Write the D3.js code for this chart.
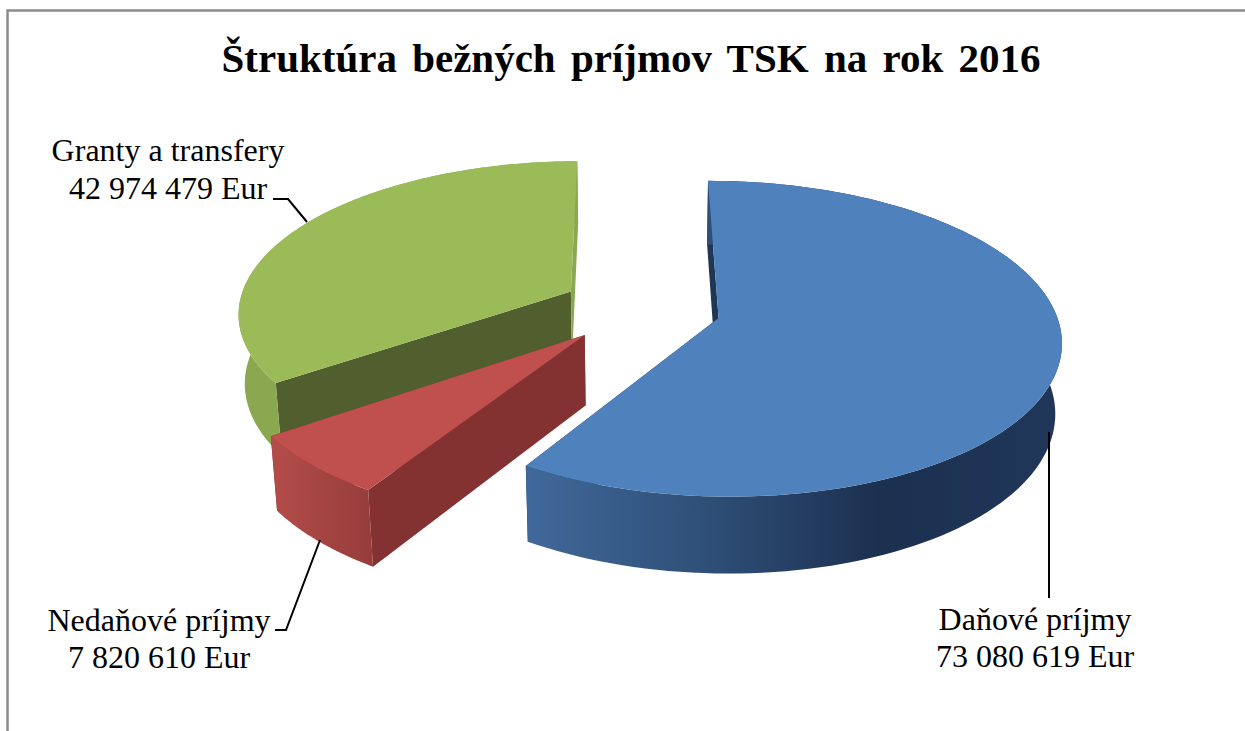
<!DOCTYPE html>
<html>
<head>
<meta charset="utf-8">
<script src="https://d3js.org/d3.v7.min.js"></script>
<style>
body { margin: 0; background: #fff; overflow: hidden; }
text { font-family: "Liberation Serif", "Times New Roman", serif; fill: #000; }
</style>
</head>
<body>
<div id="chart"></div>
<script>
// Chart data
var categories = ["Daňové príjmy", "Nedaňové príjmy", "Granty a transfery"];
var values = [73080619, 7820610, 42974479];
var valueLabels = ["73 080 619 Eur", "7 820 610 Eur", "42 974 479 Eur"];
var titleText = "Štruktúra bežných príjmov TSK na rok 2016";

var svgWidth = 1245;
var svgHeight = 731;

var svg = d3.select("#chart")
    .append("svg")
    .attr("width", svgWidth)
    .attr("height", svgHeight);

// Pie geometry and camera
var cx = 641, cy = 308;
var sliceRadius = [336, 341, 333];
var explode = 80;
var height3d = 79;
var elevation = 27 * Math.PI / 180;
var camDist = 2300;
var rotation = -0.3 * Math.PI / 180;

// colours: top, cut face, wall gradient stops
var sliceStyles = [
    { top: "#4f81bd", cut: "#1f3654", wall: [[530, "#40689a"], [700, "#2f5078"], [880, "#1c3050"], [1060, "#20375a"]] },
    { top: "#c0504d", cut: "#843231", wall: [[275, "#b34c49"], [370, "#963d3b"]] },
    { top: "#9bbb59", cut: "#505f2d", wall: [[243, "#8aa84f"], [580, "#8aa84f"]] }
];

function project(u, v, z) {
    var depth = v * Math.cos(elevation) - z * Math.sin(elevation);
    var s = camDist / (camDist + depth);
    return [
        cx + u * s,
        cy - (v * Math.sin(elevation) + z * Math.cos(elevation)) * s
    ];
}

var pie = d3.pie().sort(null).startAngle(rotation).endAngle(rotation + 2 * Math.PI);
var arcs = pie(values);

var path = d3.line().curve(d3.curveLinear);

var defs = svg.append("defs");
arcs.forEach(function(d, i) {
    var stops = sliceStyles[i].wall;
    var x0 = stops[0][0];
    var x1 = stops[stops.length - 1][0];
    var grad = defs.append("linearGradient")
        .attr("id", "wall" + i)
        .attr("gradientUnits", "userSpaceOnUse")
        .attr("x1", x0)
        .attr("x2", x1)
        .attr("y1", 0).attr("y2", 0);
    stops.forEach(function(s) {
        grad.append("stop")
            .attr("offset", (s[0] - x0) / (x1 - x0))
            .attr("stop-color", s[1]);
    });
});

function drawSlice(d, i) {
    var style = sliceStyles[i];
    var radius = sliceRadius[i];
    var mid = (d.startAngle + d.endAngle) / 2;
    var ox = explode * Math.sin(mid);
    var oy = explode * Math.cos(mid);
    var angles = d3.range(0, 121).map(function(k) {
        return d.startAngle + (d.endAngle - d.startAngle) * k / 120;
    });
    function rim(z) {
        return angles.map(function(a) {
            return project(ox + radius * Math.sin(a), oy + radius * Math.cos(a), z);
        });
    }
    var topRim = rim(0);
    var botRim = rim(-height3d);
    var apexTop = project(ox, oy, 0);
    var apexBot = project(ox, oy, -height3d);
    var g = svg.append("g");

    // cut faces
    [[topRim[0], botRim[0]], [topRim[120], botRim[120]]].forEach(function(e, j) {
        // the last edge of the green slice is the thin lighter strip
        var fill = (i === 2 && j === 1) ? "#8aa84f" : style.cut;
        g.append("path")
            .attr("d", path([apexTop, e[0], e[1], apexBot]) + "Z")
            .attr("fill", fill);
    });
    // outer wall
    g.append("path")
        .attr("d", path(topRim.concat(botRim.slice().reverse())) + "Z")
        .attr("fill", "url(#wall" + i + ")");
    // top face
    g.append("path")
        .attr("d", path([apexTop].concat(topRim)) + "Z")
        .attr("fill", style.top);
}

// back to front
drawSlice(arcs[2], 2);
drawSlice(arcs[1], 1);
drawSlice(arcs[0], 0);

// Frame, cut off by the screenshot on the right and at the bottom
svg.append("path")
    .attr("d", "M7.5,731V10.5H1245")
    .attr("fill", "none")
    .attr("stroke", "#8c8c8c")
    .attr("stroke-width", 2.5);

// Title
svg.append("text")
    .attr("x", 631)
    .attr("y", 72)
    .attr("text-anchor", "middle")
    .style("font-size", "41px")
    .style("font-weight", "bold")
    .style("word-spacing", "5px")
    .text(titleText);

// Labels
var labelPos = [
    { x: 1035, y: 630, y2: 667 },
    { x: 159, y: 631, y2: 668 },
    { x: 168, y: 161, y2: 199 }
];
categories.forEach(function(c, i) {
    var p = labelPos[i];
    svg.append("text").attr("x", p.x).attr("y", p.y)
        .attr("text-anchor", "middle").style("font-size", "32px").text(c);
    svg.append("text").attr("x", p.x).attr("y", p.y2)
        .attr("text-anchor", "middle").style("font-size", "32px").text(valueLabels[i]);
});

// Leader lines
var leaders = [
    [[1049, 432], [1049, 598]],
    [[275, 630], [286, 630], [320, 540]],
    [[273, 199], [288, 199], [307, 222]]
];
leaders.forEach(function(l) {
    svg.append("path")
        .attr("d", path(l))
        .attr("fill", "none")
        .attr("stroke", "#000")
        .attr("stroke-width", 2);
});
</script>
</body>
</html>
